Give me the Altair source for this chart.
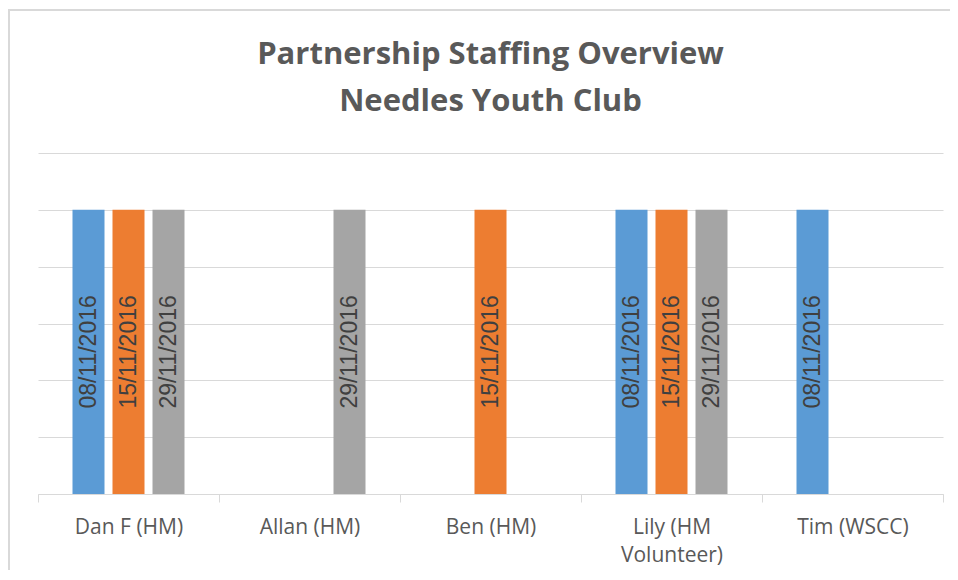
import altair as alt
import pandas as pd

categories = ["Dan F (HM)", "Allan (HM)", "Ben (HM)", "Lily (HM Volunteer)", "Tim (WSCC)"]
series = ["08/11/2016", "15/11/2016", "29/11/2016"]
colors = ["#5B9BD5", "#ED7D31", "#A5A5A5"]

# (category, series, value)
rows_cat = ["Dan F (HM)", "Dan F (HM)", "Dan F (HM)", "Allan (HM)", "Ben (HM)",
            "Lily (HM Volunteer)", "Lily (HM Volunteer)", "Lily (HM Volunteer)", "Tim (WSCC)"]
rows_series = ["08/11/2016", "15/11/2016", "29/11/2016", "29/11/2016", "15/11/2016",
               "08/11/2016", "15/11/2016", "29/11/2016", "08/11/2016"]
rows_value = [1, 1, 1, 1, 1, 1, 1, 1, 1]

df = pd.DataFrame({"cat": rows_cat, "series": rows_series, "value": rows_value})
df["mid"] = df["value"] / 2

x_enc = alt.X(
    "cat:N",
    sort=categories,
    scale=alt.Scale(domain=categories, paddingInner=0, paddingOuter=0),
    axis=alt.Axis(
        title=None,
        labelAngle=0,
        labelFont="Open Sans",
        labelFontSize=21,
        labelColor="#595959",
        labelPadding=14,
        labelLineHeight=28,
        labelExpr="datum.value == 'Lily (HM Volunteer)' ? ['Lily (HM', 'Volunteer)'] : datum.value",
        tickBand="extent",
        tickSize=8,
        tickColor="#D9D9D9",
        domainColor="#D9D9D9",
        domainWidth=1,
        grid=False,
    ),
)
xoff = alt.XOffset(
    "series:N",
    scale=alt.Scale(domain=series, paddingInner=0.2, paddingOuter=0.8625),
)

y_scale = alt.Scale(domain=[0, 1.2], nice=False)

bars = alt.Chart(df).mark_bar().encode(
    x=x_enc,
    xOffset=xoff,
    y=alt.Y(
        "value:Q",
        scale=y_scale,
        axis=alt.Axis(
            title=None, labels=False, ticks=False, domain=False,
            values=[0, 0.2, 0.4, 0.6, 0.8, 1.0, 1.2],
            grid=True, gridColor="#D9D9D9", gridWidth=1,
        ),
    ),
    color=alt.Color("series:N", scale=alt.Scale(domain=series, range=colors), legend=None),
)

labels = alt.Chart(df).mark_text(
    angle=270, align="center", baseline="middle",
    font="Liberation Sans", fontSize=23, color="#404040",
).encode(
    x=x_enc,
    xOffset=xoff,
    y=alt.Y("mid:Q", scale=y_scale),
    text="series:N",
)

border = alt.Chart(pd.DataFrame({"k": [0]})).mark_rect(
    fill="transparent", fillOpacity=0, stroke="#D9D9D9", strokeWidth=2, clip=False
).encode(
    x=alt.value(-29), x2=alt.value(930),
    y=alt.value(-143), y2=alt.value(500),
)

chart = alt.layer(border, bars, labels).properties(
    width=905,
    height=341,
    background="white",
    title=alt.TitleParams(
        text=["Partnership Staffing Overview", "Needles Youth Club"],
        font="Open Sans",
        fontSize=31,
        fontWeight="bold",
        color="#595959",
        anchor="middle",
        frame="group",
        lineHeight=47,
        offset=-109,
    ),
    autosize=alt.AutoSizeParams(type="none"),
    padding={"left": 30, "top": 145, "right": 7, "bottom": 76},
).configure_view(stroke="transparent", strokeWidth=0)

chart.save("out.html", embed_options={"renderer": "svg", "actions": False})
